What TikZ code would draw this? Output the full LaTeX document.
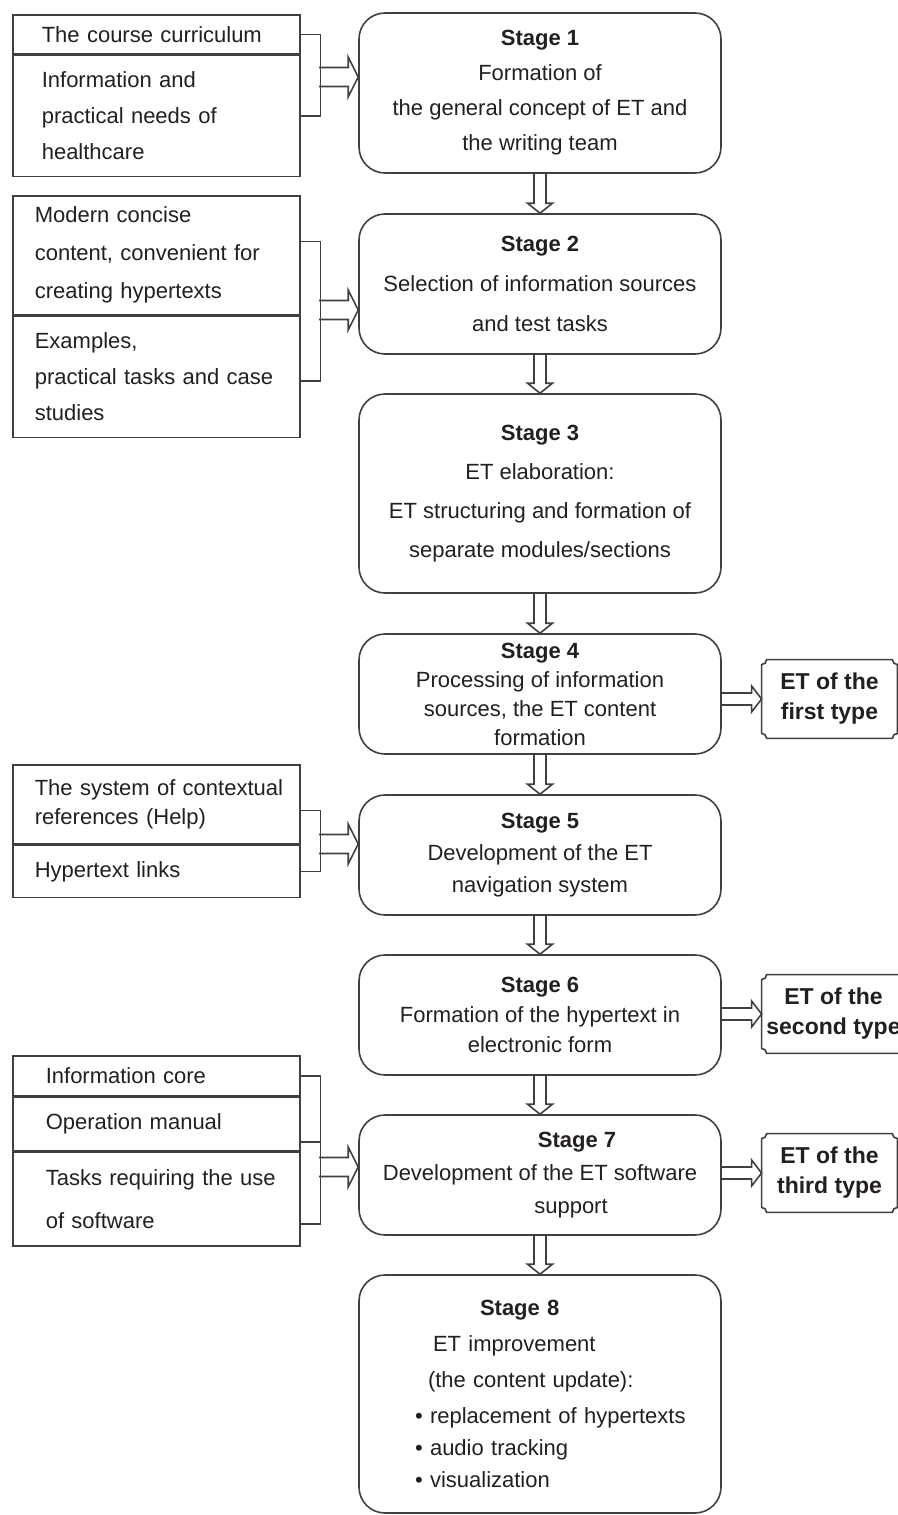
\documentclass[tikz,border=0pt]{standalone}
\usepackage{fontspec}
\setmainfont{Liberation Sans}
\usetikzlibrary{positioning, calc}
\definecolor{framegray}{RGB}{64,64,64}
\definecolor{inkgray}{RGB}{35,31,32}

\begin{document}
\begin{tikzpicture}[x=0.5pt, y=-0.5pt,
    stagebox/.style={draw=framegray, line width=0.8pt, rounded corners=13pt, minimum width=181pt, inner sep=0pt, align=center, text=inkgray, font=\fontsize{11}{#1}\selectfont},
    cell/.style 2 args={draw=framegray, line width=0.8pt, text width=143.5pt, inner xsep=0pt, inner ysep=0pt, align=left, text=inkgray, font=\fontsize{11}{#2}\selectfont, execute at begin node={\leftskip=#1\relax}},
    typebox/.style={minimum width=67.5pt, minimum height=39pt, inner sep=0pt, align=center, text=inkgray, font=\fontsize{11.5}{15}\selectfont\bfseries},
    bracket/.style={draw=framegray, line width=0.8pt},
    fatdown/.style={draw=framegray, line width=0.8pt, to path={let \p1=(\tikztostart), \p2=(\tikztotarget) in
        (\x1-3pt,\y1) -- (\x1-3pt,\y2+5pt) -- (\x1-6.25pt,\y2+5pt) -- (\x1,\y2) -- (\x1+6.25pt,\y2+5pt) -- (\x1+3pt,\y2+5pt) -- (\x1+3pt,\y1)}},
    fatright/.style 2 args={draw=framegray, line width=0.8pt, to path={let \p1=(\tikztostart), \p2=(\tikztotarget) in
        (\x1,\y1+#1) -- (\x2-5pt,\y1+#1) -- (\x2-5pt,\y1+#2) -- (\x2,\y1) -- (\x2-5pt,\y1-#2) -- (\x2-5pt,\y1-#1) -- (\x1,\y1-#1)}}
]
\useasboundingbox (0,0) rectangle (898,1515);

% Stages
\node[stagebox=17.5pt, minimum height=80pt] (s1) at (540,93)
    {\textbf{Stage 1}\\Formation of\\the general concept of ET and\\the writing team};
\node[stagebox=20pt, minimum height=70pt] (s2) at (540,284)
    {\textbf{Stage 2}\\Selection of information sources\\and test tasks};
\node[stagebox=19.5pt, minimum height=99.5pt] (s3) at (540,493.5)
    {\textbf{Stage 3}\\ET elaboration:\\ET structuring and formation of\\separate modules/sections};
\node[stagebox=14.5pt, minimum height=60pt] (s4) at (540,694)
    {\textbf{Stage 4}\\Processing of information\\sources, the ET content\\formation};
\node[stagebox=16pt, minimum height=60pt] (s5) at (540,855)
    {\textbf{Stage 5}\\Development of the ET\\navigation system};
\node[stagebox=15pt, minimum height=60pt] (s6) at (540,1015)
    {\textbf{Stage 6}\\Formation of the hypertext in\\electronic form};
\node[stagebox=16.5pt, minimum height=60pt] (s7) at (540,1175)
    {\hspace*{37pt}\textbf{Stage 7}\\Development of the ET software\\\hspace*{31pt}support};
\node[stagebox=18pt, minimum height=119pt, align=left, text width=170pt, execute at begin node={\leftskip=22.5pt\relax}] (s8) at (540,1394)
    {\hspace*{32.5pt}\textbf{Stage 8}\\
     \hspace*{9pt}ET improvement\\
     \hspace*{6.5pt}(the content update):\\
     \textbullet{} replacement of hypertexts\\[-2pt]
     \textbullet{} audio tracking\\[-2pt]
     \textbullet{} visualization};

\foreach \a/\b in {s1/s2, s2/s3, s3/s4, s4/s5, s5/s6, s6/s7, s7/s8}
    \draw[fatdown] (\a.south) to (\b.north);

% Inputs of stage 1
\node[cell={14.5pt}{18pt}, minimum height=19.5pt, anchor=north west] (curr) at (12,14) {The course curriculum};
\node[cell={14.5pt}{18pt}, minimum height=60.5pt, below=0pt of curr] (needs) {Information and\\practical needs of\\healthcare};
\draw[bracket] (curr.east) -- ++(20,0) |- (needs.east);
\coordinate (j1) at (319,77);
\draw[fatright={4.75pt}{10pt}] (j1) to (j1 -| s1.west);

% Inputs of stage 2
\node[cell={11pt}{19pt}, minimum height=59.5pt, anchor=north west] (modern) at (12,195) {Modern concise\\content, convenient for\\creating hypertexts};
\node[cell={11pt}{18pt}, minimum height=60.5pt, below=0pt of modern] (cases) {Examples,\\practical tasks and case\\studies};
\draw[bracket] ([yshift=7pt]modern.east) -- ++(20,0) |- ([yshift=-2pt]cases.east);
\coordinate (j2) at (319,310);
\draw[fatright={4.75pt}{10pt}] (j2) to (j2 -| s2.west);

% Inputs of stage 5
\node[cell={11pt}{14.5pt}, minimum height=39.5pt, anchor=north west] (help) at (12,764) {The system of contextual\\references (Help)};
\node[cell={11pt}{14.5pt}, minimum height=26pt, below=0pt of help] (links) {Hypertext links};
\draw[bracket] ([yshift=-3pt]help.east) -- ++(20,0) |- (links.east);
\coordinate (j3) at (319,844);
\draw[fatright={4.75pt}{10pt}] (j3) to (j3 -| s5.west);

% Inputs of stage 7
\node[cell={16.5pt}{18pt}, minimum height=20pt, anchor=north west] (core) at (12,1055) {Information core};
\node[cell={16.5pt}{18pt}, minimum height=26.5pt, below=0pt of core] (manual) {Operation manual};
\node[cell={16.5pt}{21.5pt}, minimum height=47pt, below=0pt of manual] (tasks) {Tasks requiring the use\\of software};
\draw[bracket] (core.east) -- ++(20,0) |- ([yshift=-12.5pt]tasks.east);
\draw[bracket] ([yshift=-9pt]manual.east) -- ++(20,0);
\coordinate (j4) at (319,1167);
\draw[fatright={4.75pt}{10pt}] (j4) to (j4 -| s7.west);

% Types of ET
\node[typebox] (t1) at (829.5,699) {ET of the\\first type};
\node[typebox, minimum width=71.5pt] (t2) at (833.5,1014) {ET of the\\second type};
\node[typebox] (t3) at (829.5,1173) {ET of the\\third type};
\foreach \t in {t1, t2, t3}
    \draw[framegray, line width=0.8pt] ([xshift=2.5pt]\t.north west) -- ([xshift=-2.5pt]\t.north east)
        arc[start angle=180, end angle=270, radius=2.5pt] -- ([yshift=2.5pt]\t.south east)
        arc[start angle=90, end angle=180, radius=2.5pt] -- ([xshift=2.5pt]\t.south west)
        arc[start angle=0, end angle=90, radius=2.5pt] -- ([yshift=-2.5pt]\t.north west)
        arc[start angle=270, end angle=360, radius=2.5pt] -- cycle;

\draw[fatright={3pt}{6.5pt}] (t1.west -| s4.east) to (t1.west);
\draw[fatright={3pt}{6.5pt}] (t2.west -| s6.east) to (t2.west);
\draw[fatright={3pt}{6.5pt}] (t3.west -| s7.east) to (t3.west);

\end{tikzpicture}
\end{document}
